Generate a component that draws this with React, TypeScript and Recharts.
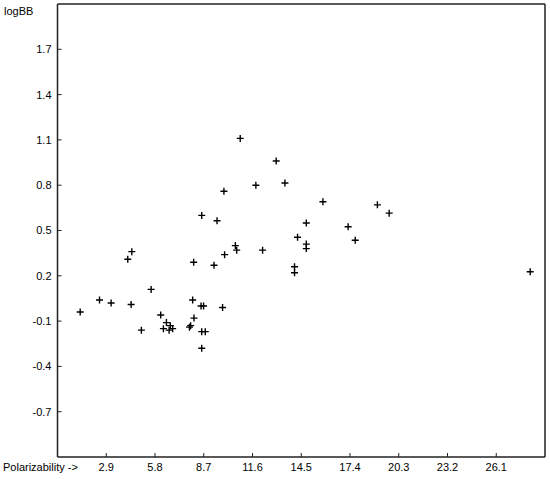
import React from 'react';
import { ScatterChart, Scatter, XAxis, YAxis } from 'recharts';

const polarizability = [
  1.35, 2.5, 3.19, 4.18, 4.42, 4.38, 5.57, 4.99, 6.14, 6.48, 6.3, 6.71, 6.64, 6.85,
  7.85, 7.92, 8.1, 8.04, 8.12, 8.54, 8.69, 8.58, 8.79, 8.58, 9.31, 9.94, 9.82,
  10.87, 13.01, 11.8, 13.53, 9.9, 15.79, 19.03, 8.58, 9.49, 14.8, 17.29, 17.71,
  14.28, 10.58, 10.66, 12.2, 14.8, 14.8, 14.1, 14.1, 19.73, 28.12,
];
const logBB = [
  -0.04, 0.04, 0.02, 0.31, 0.36, 0.01, 0.11, -0.16, -0.06, -0.11, -0.15, -0.13, -0.16, -0.15,
  -0.14, -0.13, 0.29, 0.04, -0.08, 0.0, 0.0, -0.17, -0.17, -0.28, 0.27, 0.34, -0.01,
  1.11, 0.96, 0.8, 0.815, 0.76, 0.69, 0.67, 0.6, 0.565, 0.55, 0.525, 0.435,
  0.455, 0.4, 0.37, 0.37, 0.41, 0.38, 0.26, 0.22, 0.615, 0.227,
];
const xTicks = [2.9, 5.8, 8.7, 11.6, 14.5, 17.4, 20.3, 23.2, 26.1];
const yTicks = [-0.7, -0.4, -0.1, 0.2, 0.5, 0.8, 1.1, 1.4, 1.7];
const xDomain = [0, 29];
const yDomain = [-1, 2];

const data = polarizability.map((x, i) => ({ x, y: logBB[i] }));

const Plus = (props: any) => {
  const { cx, cy } = props;
  const r = 3.5;
  return (
    <path
      d={`M${cx - r},${cy}H${cx + r}M${cx},${cy - r}V${cy + r}`}
      stroke="#000"
      strokeWidth={1.4}
      fill="none"
    />
  );
};

const Empty = () => <g />;

const font = "'Liberation Sans', Arial, sans-serif";
const tickStyle = { fontSize: 11, fill: '#000', fontFamily: font };
const axisLine = { stroke: '#222', strokeWidth: 1.5 };
const tickLine = { stroke: '#222', strokeWidth: 1 };

export default function App() {
  return (
    <div style={{ position: 'absolute', left: 0, top: 0, width: 550, height: 479, background: '#fff' }}>
      <ScatterChart width={550} height={479} margin={{ top: 3, right: 4, bottom: 0, left: 0 }}>
        <XAxis
          xAxisId="b"
          dataKey="x"
          type="number"
          domain={xDomain}
          ticks={xTicks}
          allowDataOverflow
          height={22}
          tickSize={-4}
          tickMargin={10}
          tick={tickStyle}
          axisLine={axisLine}
          tickLine={tickLine}
        />
        <XAxis
          xAxisId="t"
          dataKey="x"
          orientation="top"
          type="number"
          domain={xDomain}
          ticks={xTicks}
          allowDataOverflow
          height={1}
          tickSize={-4}
          tick={false}
          axisLine={axisLine}
          tickLine={tickLine}
        />
        <YAxis
          yAxisId="l"
          dataKey="y"
          type="number"
          domain={yDomain}
          ticks={yTicks}
          allowDataOverflow
          width={57.5}
          tickSize={-4}
          tickMargin={10}
          tick={tickStyle}
          axisLine={axisLine}
          tickLine={tickLine}
        />
        <YAxis
          yAxisId="r"
          dataKey="y"
          orientation="right"
          type="number"
          domain={yDomain}
          ticks={yTicks}
          allowDataOverflow
          width={1}
          tickSize={-4}
          tick={false}
          axisLine={axisLine}
          tickLine={tickLine}
        />
        <Scatter
          xAxisId="t"
          yAxisId="r"
          data={data}
          shape={Empty}
          isAnimationActive={false}
        />
        <Scatter
          xAxisId="b"
          yAxisId="l"
          data={data}
          shape={Plus}
          isAnimationActive={false}
        />
      </ScatterChart>
      <div style={{ position: 'absolute', left: 4, top: 4, fontFamily: font, fontSize: 11, color: '#000', lineHeight: '14px' }}>
        logBB
      </div>
      <div style={{ position: 'absolute', left: 3, top: 460, fontFamily: font, fontSize: 11, color: '#000', lineHeight: '14px', whiteSpace: 'nowrap' }}>
        {'Polarizability ->'}
      </div>
    </div>
  );
}
